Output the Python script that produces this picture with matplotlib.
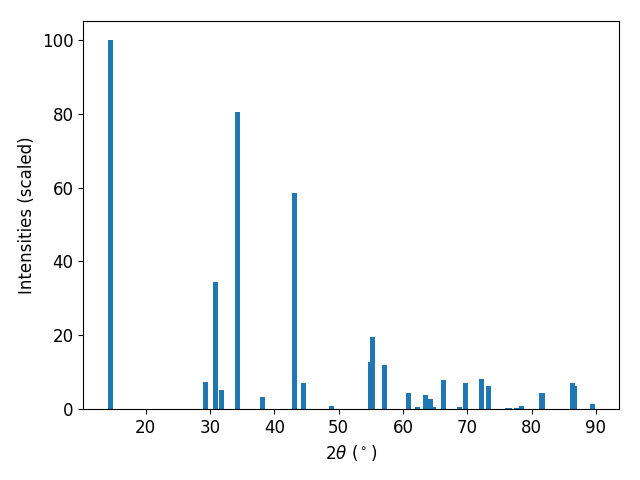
import matplotlib
matplotlib.use("Agg")
import matplotlib.pyplot as plt

two_theta = [14.48, 29.25, 30.8, 31.74, 34.23, 38.1, 43.09, 44.57, 48.85,
             54.9, 55.2, 57.09, 60.82, 62.22, 63.47, 64.25, 64.7, 66.27,
             68.76, 69.69, 72.17, 73.26, 76.2, 76.5, 77.6, 78.4, 81.5, 81.7,
             86.33, 86.64, 87.58, 89.45]
intensities = [100, 7.5, 34.4, 5.1, 80.5, 3.4, 58.5, 7.0, 1.0,
               12.7, 19.7, 12.1, 4.5, 0.7, 4.0, 2.9, 0.5, 8.0,
               0.5, 7.2, 8.3, 6.4, 0.3, 0.3, 0.3, 1.0, 4.3, 4.3,
               7.0, 6.4, 0.2, 1.3]

plt.rcParams['font.size'] = 12
fig, ax = plt.subplots(figsize=(6.4, 4.8), dpi=100)
ax.bar(two_theta, intensities, width=0.8, color='#1f77b4')
ax.set_xlabel(r'$2\theta$ ($^\circ$)')
ax.set_ylabel('Intensities (scaled)')
fig.subplots_adjust(left=83.3/640, right=619.3/640, top=1 - 21.3/480, bottom=1 - 409.3/480)
fig.savefig('out.png')
